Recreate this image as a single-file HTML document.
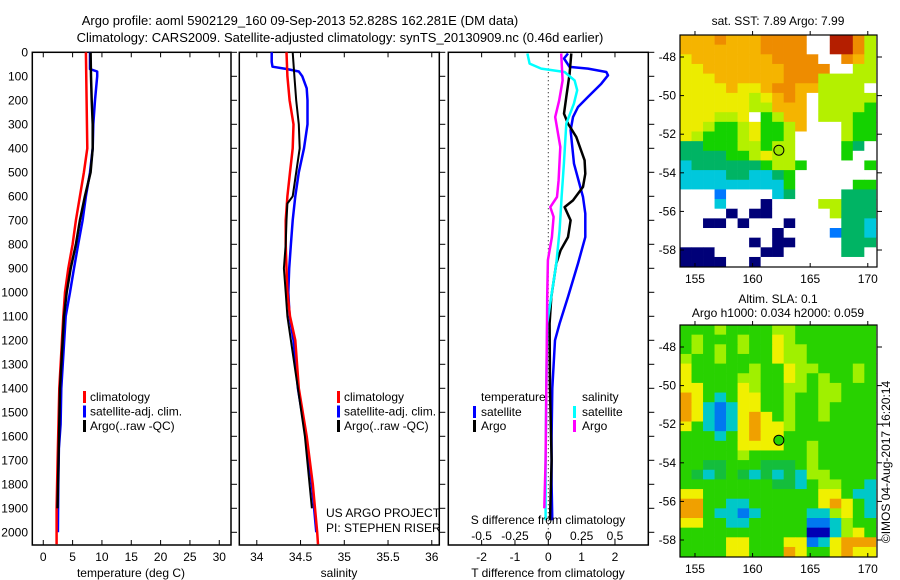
<!DOCTYPE html>
<html><head><meta charset="utf-8"><style>
html,body{margin:0;padding:0;background:#fff}
svg{display:block;font-family:"Liberation Sans",sans-serif;font-size:12px}
</style></head><body>
<svg id="fig" width="900" height="580" xmlns="http://www.w3.org/2000/svg">
<text x="300" y="25" text-anchor="middle" font-size="13">Argo profile: aoml 5902129_160 09-Sep-2013 52.828S 162.281E (DM data)</text>
<text x="340" y="42" text-anchor="middle" font-size="13">Climatology: CARS2009. Satellite-adjusted climatology: synTS_20130909.nc (0.46d earlier)</text>
<text x="778" y="25" text-anchor="middle">sat. SST: 7.89 Argo: 7.99</text>
<text x="778" y="303" text-anchor="middle">Altim. SLA: 0.1</text>
<text x="778" y="317" text-anchor="middle">Argo h1000: 0.034 h2000: 0.059</text>
<g id="plots"></g>
<text transform="translate(890,462) rotate(-90)" text-anchor="middle">©IMOS 04-Aug-2017 16:20:14</text>
</svg>
<script>
// ---------- data ----------
const tDepthRed=[0,400,500,600,700,800,900,1000,1100,1400,1700,1900,2050];
const tRed=[7.27,7.5,6.93,6.25,5.57,5.0,4.26,3.7,3.41,2.73,2.45,2.28,2.28];
const tDepthBlue=[0,70,80,100,200,300,400,500,600,700,800,900,1000,1100,1400,1550,1650,1800,2000];
const tBlue=[7.96,7.96,9.2,9.2,8.81,8.52,8.42,7.96,7.27,6.71,5.96,5.23,4.55,3.82,3.07,2.96,2.67,2.56,2.5];
const tDepthArgo=[0,100,200,300,400,500,600,700,800,900,1000,1100,1400,1900];
const tArgo=[8.07,8.13,8.25,8.42,8.42,8.07,7.1,6.25,5.57,4.67,3.99,3.53,2.85,2.42];

const sDepthRed=[0,100,200,300,400,500,600,700,800,900,1000,1100,1200,1400,1600,1800,2000,2050];
const sRed=[34.34,34.35,34.375,34.42,34.41,34.38,34.35,34.33,34.33,34.34,34.35,34.38,34.44,34.48,34.57,34.64,34.69,34.7];
const sDepthBlue=[0,40,60,70,80,100,150,200,300,400,500,600,700,800,900,1000,1100,1200,1400,1600,1800,2000];
const sBlue=[34.17,34.17,34.18,34.35,34.48,34.52,34.57,34.58,34.58,34.54,34.48,34.44,34.41,34.39,34.37,34.36,34.375,34.42,34.47,34.56,34.63,34.68];
const sDepthArgo=[0,100,200,300,400,500,600,630,700,800,900,1000,1100,1400,1600,1900];
const sArgo=[34.41,34.43,34.45,34.48,34.49,34.45,34.41,34.35,34.34,34.33,34.31,34.33,34.35,34.47,34.55,34.63];

const dDepthTsat=[5,26,61,68,82,96,131,186,228,270,325,464,603,672,770,880,1019,1130,1200,1400,1600,1800,1950];
const dTsat=[0.59,0.47,0.64,1.19,1.74,1.79,1.59,1.19,0.89,0.74,0.67,0.77,1.04,1.11,1.11,0.89,0.59,0.34,0.2,0.12,0.1,0.1,0.12];
const dDepthTargo=[5,89,186,256,297,353,450,506,561,617,645,700,770,825,880,1019,1130,1400,1700,1950];
const dTargo=[0.69,0.64,0.54,0.47,0.59,0.84,1.09,1.11,1.04,0.74,0.49,0.67,0.59,0.37,0.24,0.09,0.04,0.05,0.1,0.05];
const dDepthSsat=[5,47,68,82,117,158,214,297,464,603,742,880,1019,1130,1400,1700,1950];
const dSsat=[-0.157,-0.14,-0.053,0.122,0.197,0.217,0.192,0.135,0.117,0.10,0.085,0.06,0.022,-0.008,-0.015,-0.02,-0.02];
const dDepthSargo=[5,117,200,270,394,533,603,645,686,770,866,1019,1130,1400,1700,1900];
const dSargo=[0.097,0.107,0.082,0.052,0.09,0.077,0.065,0.015,0.04,0.027,-0.003,-0.008,-0.01,-0.015,-0.02,-0.03];

const depthTicks=[0,100,200,300,400,500,600,700,800,900,1000,1100,1200,1300,1400,1500,1600,1700,1800,1900,2000];
const tTicks=[0,5,10,15,20,25,30];
const sTicks=[34,34.5,35,35.5,36];
const dTTicks=[-2,-1,0,1,2];
const dSTicks=[-0.5,-0.25,0,0.25,0.5];

const sstRows=[
"oooOoooOOOOWWRROy","oooooooOOOOWWRROy","YoooooooOOOOWWOoy","YYoooooooOOOOWWyy",
"YYYooooooOOOyyyyy","YYYYoYYoOOooyyyyW","YYYYYYyYoOoWyyyyy","YYYYYYyyoooWyyyyG",
"YYYyyYWGyooWyyyGG","YYyGGyYGGyoWWWyGG","YyGGGyYGGyWWWWyGG","ggGGGyyGyyWWWWGgW",
"ggggGGyYyyWWWWGWW","CggggggGyyGWWWWWG","CCCCggCCgGWWWWWWW","CCCCCCCCCGWWWWWGG",
"WWWBWWWWCgWWWWggg","WWWCWWWNWWWWyyggg","WWWWNWNNWWWWWyggg","WWNNWNWWWNWWWWggC",
"WWWWWWWWNWWWWBggC","WWWWWWNWNNWWWWggg","NNNWWWWNNWWWWWggW","NNNNWWNWWWWWWWWWW"];
const slaRows=[
"GGGyGGGGyyGGGGGGG","GyGGGyGGYyGGGGGGG","GyGyGyGGYyyGGGGGG","yGGyGGGGYyyGGGGGG",
"YGGGGGyGGYyyGGGyG","YGGGGyyGGYyGyGGyG","YYGGGYyGGyyGyyGGG","OYGCGYYGGyGGyyGGG",
"OYCBCYYGGyGGyGGGG","OYCBCYOYGyGGyGGGG","YGCBCYOYYyGGGGGGG","GGGCGYOYYGGGGGGGG",
"GGGGGYYYYGGyGGGGG","GGGGGyGGGGGyGGGGG","GGggGGGgggGyGGGGG","GgCgGgCgCgCyyGGGG",
"GGGGGGGGggCGyyGGC","YYGGGGGGGGGGYYGCC","OOGGCCGGGGGGYOYGC","OOGCCBCGGGGCCyYGC",
"YYGGCCGGGGGBBCyGG","GGGGGGGGGGGDDCyYG","GGGGYYGGGYYBCYOOO","GGGGYYGGGOYGGYOYY"];
const latTicks=[-48,-50,-52,-54,-56,-58];
const lonTicks=[155,160,165,170];
const argoLon=162.281, argoLat=-52.828;

// ---------- drawing ----------
const NS='http://www.w3.org/2000/svg';
const G=document.getElementById('plots');
function mk(tag,attrs,parent){const e=document.createElementNS(NS,tag);for(const k in attrs)e.setAttribute(k,attrs[k]);(parent||G).appendChild(e);return e;}
const Y0=52.3, YK=0.24;
function yD(d){return Y0+d*YK;}
const BOT=545;

function panel(name,left,right,x0,x1){
  const g=mk('g',{});
  
  
  const xs=v=>left+(v-x0)/(x1-x0)*(right-left);
  return {g,xs,left,right};
}
function box(p){
  const r=mk('rect',{x:p.left,y:Y0,width:p.right-p.left,height:BOT-Y0,fill:'none',stroke:'#000','stroke-width':1.5},p.g);
  
  
  depthTicks.forEach(d=>{mk('line',{x1:p.right,x2:p.right+6,y1:yD(d),y2:yD(d),stroke:'#000'},p.g);});
}
function xticks(p,ticks,fmt,ly){
  ticks.forEach(v=>{const x=p.xs(v);
    mk('line',{x1:x,x2:x,y1:Y0,y2:Y0+5,stroke:'#000'},p.g);
    mk('line',{x1:x,x2:x,y1:BOT,y2:BOT-5,stroke:'#000'},p.g);
    const t=mk('text',{x:x,y:ly,'text-anchor':'middle'},p.g);t.textContent=fmt(v);
    
    
  });
}
function line(p,depths,vals,color,w,name){
  const pts=depths.map((d,i)=>p.xs(vals[i]).toFixed(1)+','+yD(d).toFixed(1)).join(' ');
  const l=mk('polyline',{points:pts,fill:'none',stroke:color,'stroke-width':w,'stroke-linejoin':'round'},p.g);
  
  
}
function txt(p,x,y,s,name,anchor){const t=mk('text',{x:x,y:y,'text-anchor':anchor||'start'},p.g);t.textContent=s;
  
  return t;}
function legBar(p,x,y,c){mk('rect',{x:x,y:y-10,width:3,height:12,fill:c},p.g);}

depthTicks.forEach(d=>{const t=mk('text',{x:28,y:yD(d)+4,'text-anchor':'end'});t.textContent=d;
  
  });

const p1=panel('temperature-panel',32.3,231,-1.87,32);
box(p1);xticks(p1,tTicks,v=>v,561);
line(p1,tDepthBlue,tBlue,'#0000ff',2.5,'temp-satellite-line');
line(p1,tDepthRed,tRed,'#ff0000',2.5,'temp-climatology-line');
line(p1,tDepthArgo,tArgo,'#000',2.5,'temp-argo-line');
txt(p1,131,577,'temperature (deg C)','x-axis-title','middle');
[['climatology','#ff0000'],['satellite-adj. clim.','#0000ff'],['Argo(..raw -QC)','#000']].forEach((e,i)=>{
  legBar(p1,83,401+i*14.5,e[1]);txt(p1,90,401+i*14.5,e[0],'legend-entry');});

const p2=panel('salinity-panel',239.3,439.3,33.80,36.086);
box(p2);xticks(p2,sTicks,v=>v,561);
line(p2,sDepthBlue,sBlue,'#0000ff',2.5,'sal-satellite-line');
line(p2,sDepthRed,sRed,'#ff0000',2.5,'sal-climatology-line');
line(p2,sDepthArgo,sArgo,'#000',2,'sal-argo-line');
txt(p2,339,577,'salinity','x-axis-title','middle');
[['climatology','#ff0000'],['satellite-adj. clim.','#0000ff'],['Argo(..raw -QC)','#000']].forEach((e,i)=>{
  legBar(p2,337,401+i*14.5,e[1]);txt(p2,344,401+i*14.5,e[0],'legend-entry');});
txt(p2,326,517,'US ARGO PROJECT','project-credit');
txt(p2,326,532,'PI: STEPHEN RISER','pi-credit');

const p3=panel('difference-panel',448.3,648.3,-3,3);
box(p3);xticks(p3,dTTicks,v=>v,561);
const ps={xs:v=>p3.xs(v*4),g:p3.g};
mk('line',{x1:p3.xs(0),x2:p3.xs(0),y1:Y0,y2:BOT,stroke:'#000','stroke-dasharray':'1,3'},p3.g);
line(p3,dDepthTsat,dTsat,'#0000ff',2.5,'tdiff-satellite-line');
line(p3,dDepthTargo,dTargo,'#000',2.5,'tdiff-argo-line');
line(ps,dDepthSsat,dSsat,'#00ffff',2.5,'sdiff-satellite-line');
line(ps,dDepthSargo,dSargo,'#ff00ff',2.5,'sdiff-argo-line');
dSTicks.forEach(v=>{const t=mk('text',{x:ps.xs(v),y:540,'text-anchor':'middle'},p3.g);t.textContent=v;
  
  });
txt(p3,548,524,'S difference from climatology','s-diff-axis-title','middle');
txt(p3,548,577,'T difference from climatology','t-diff-axis-title','middle');
txt(p3,481,401,'temperature','legend-heading');
txt(p3,582,401,'salinity','legend-heading');
legBar(p3,473,416,'#0000ff');txt(p3,481,416,'satellite','legend-entry');
legBar(p3,473,430,'#000');txt(p3,481,430,'Argo','legend-entry');
legBar(p3,573,416,'#00ffff');txt(p3,582,416,'satellite','legend-entry');
legBar(p3,573,430,'#ff00ff');txt(p3,582,430,'Argo','legend-entry');

const sstCol={o:'#f5b400',O:'#ee8c00',R:'#b41e00',Y:'#ecec00',y:'#b4f000',G:'#14d200',g:'#00b464',C:'#00c8dc',B:'#0078ff',N:'#000078',W:'#ffffff'};
const slaCol={G:'#28d200',g:'#14be3c',y:'#a0f000',Y:'#f0f000',O:'#f0a000',C:'#00c8c8',B:'#0078f0',D:'#0000b4'};
function map(name,top,rows,cols,fillCircle){
  const g=mk('g',{});
  
  
  const L=680,R=877,B=top+232,lon0=153.7,lon1=170.8,lat0=-46.86,lat1=-58.88;
  const xs=v=>L+(v-lon0)/(lon1-lon0)*(R-L), ys=v=>top+(v-lat0)/(lat1-lat0)*(B-top);
  rows.forEach((row,ri)=>{for(let ci=0;ci<row.length;ci++){
    const x=xs(lon0+ci),y=ys(lat0-ri*0.5);
    const w=Math.min(xs(lon0+ci+1),R)-x;
    if(w<=0) continue;
    const c=mk('rect',{x:x,y:y,width:w+0.3,height:ys(lat0-ri*0.5-0.5)-y+0.5,fill:cols[row[ci]]||'#fff'},g);
    
    
  }});
  mk('rect',{x:L,y:top,width:R-L,height:B-top,fill:'none',stroke:'#000','stroke-width':1.2},g);
  latTicks.forEach(v=>{const y=ys(v);mk('line',{x1:L,x2:L+4,y1:y,y2:y,stroke:'#000'},g);mk('line',{x1:R,x2:R+5,y1:y,y2:y,stroke:'#000'},g);
    const t=mk('text',{x:676,y:y+4,'text-anchor':'end'},g);t.textContent=v;
    
    });
  lonTicks.forEach(v=>{const x=xs(v);mk('line',{x1:x,x2:x,y1:top,y2:top-4,stroke:'#000'},g);mk('line',{x1:x,x2:x,y1:B,y2:B-4,stroke:'#000'},g);
    const t=mk('text',{x:x,y:B+16,'text-anchor':'middle'},g);t.textContent=v;
    
    });
  const c=mk('circle',{cx:xs(argoLon),cy:ys(argoLat),r:5,fill:fillCircle,stroke:'#000'},g);
  
  
}
map('sst-map',35,sstRows,sstCol,'#a0e600');
map('sla-map',325,slaRows,slaCol,'#28d200');
</script>
</body></html>
